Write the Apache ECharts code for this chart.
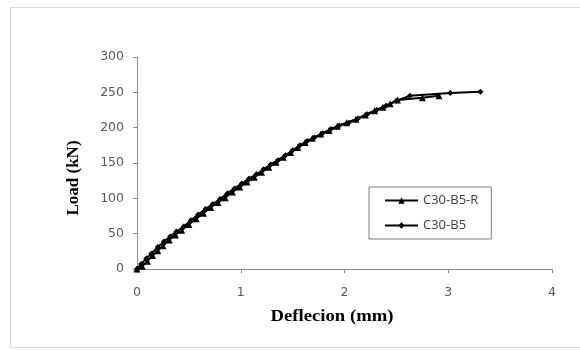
<!DOCTYPE html>
<html>
<head>
<meta charset="utf-8">
<script src="https://cdn.jsdelivr.net/npm/echarts@6/dist/echarts.min.js"></script>
<style>
  html, body { margin: 0; padding: 0; background: #fff; }
  #chart { width: 580px; height: 350px; }
</style>
</head>
<body>
<div id="chart"></div>
<script>
// C30-B5 (diamond markers)
const b5Deflection = [0, 0.04, 0.09, 0.14, 0.2, 0.26, 0.32, 0.38, 0.45, 0.52, 0.59, 0.66, 0.73, 0.8, 0.87, 0.94, 1.01, 1.08, 1.15, 1.22, 1.29, 1.36, 1.43, 1.5, 1.57, 1.64, 1.71, 1.79, 1.87, 1.95, 2.04, 2.13, 2.22, 2.31, 2.4, 2.5, 2.63, 3.02, 3.31];
const b5Load = [0, 7, 15, 22, 31, 39, 46, 53, 60, 69, 77, 85, 92, 99, 107, 114, 121, 128, 134, 141, 148, 154, 161, 168, 175, 181, 186, 192, 198, 203, 207, 213, 219, 225, 231, 238, 245, 249, 251];

// C30-B5-R (triangle markers)
const b5rDeflection = [0, 0.05, 0.1, 0.15, 0.2, 0.25, 0.31, 0.37, 0.43, 0.5, 0.57, 0.64, 0.71, 0.78, 0.85, 0.92, 0.99, 1.06, 1.13, 1.2, 1.27, 1.34, 1.41, 1.48, 1.55, 1.62, 1.69, 1.77, 1.85, 1.93, 2.02, 2.11, 2.2, 2.29, 2.37, 2.44, 2.51, 2.75, 2.91];
const b5rLoad = [0, 4, 11, 19, 26, 33, 41, 48, 55, 63, 71, 79, 87, 94, 101, 109, 116, 123, 130, 137, 144, 151, 158, 165, 172, 179, 185, 191, 196, 202, 207, 212, 218, 224, 229, 234, 239, 242.5, 245];

const pairs = (xs, ys) => xs.map((x, i) => [x, ys[i]]);

const axisGray = '#8c8c8c';
const labelStyle = {color: '#595959', fontSize: 12.5, fontFamily: 'DejaVu Sans'};

const chart = echarts.init(document.getElementById('chart'));
chart.setOption({
  animation: false,
  grid: {left: 137, right: 28, top: 57, bottom: 81},
  xAxis: {
    type: 'value',
    min: 0, max: 4, interval: 1,
    splitLine: {show: false},
    axisLine: {lineStyle: {color: axisGray}},
    axisTick: {show: true, length: 4, lineStyle: {color: axisGray}},
    axisLabel: Object.assign({margin: 17}, labelStyle),
  },
  yAxis: {
    type: 'value',
    min: 0, max: 300, interval: 50,
    splitLine: {show: false},
    axisLine: {show: true, lineStyle: {color: axisGray}},
    axisTick: {show: true, length: 4, lineStyle: {color: axisGray}},
    axisLabel: Object.assign({margin: 13}, labelStyle),
  },
  legend: {
    orient: 'vertical',
    left: 369, top: 187,
    width: 110,
    padding: [7, 13, 7, 15],
    itemGap: 12,
    itemWidth: 33, itemHeight: 8,
    borderColor: '#7f7f7f', borderWidth: 1,
    textStyle: {color: '#404040', fontSize: 13, fontFamily: 'Open Sans'},
    data: ['C30-B5-R', 'C30-B5'],
  },
  graphic: [
    {type: 'rect', silent: true, z: -10,
      shape: {x: 10.5, y: 7.5, width: 600, height: 340},
      style: {fill: 'none', stroke: '#d9d9d9', lineWidth: 1}},
    {type: 'text', x: 332, y: 317, scaleX: 1.1,
      style: {text: 'Deflecion (mm)', font: 'bold 17px "Liberation Serif"', fill: '#000',
        align: 'center', verticalAlign: 'middle'}},
    {type: 'text', x: 74, y: 178, rotation: Math.PI / 2,
      style: {text: 'Load (kN)', font: 'bold 17px "Liberation Serif"', fill: '#000',
        align: 'center', verticalAlign: 'middle'}},
  ],
  series: [
    {
      name: 'C30-B5-R',
      type: 'line',
      data: pairs(b5rDeflection, b5rLoad),
      symbol: 'triangle', symbolSize: 7,
      lineStyle: {color: '#000', width: 2},
      itemStyle: {color: '#000'},
    },
    {
      name: 'C30-B5',
      type: 'line',
      data: pairs(b5Deflection, b5Load),
      symbol: 'diamond', symbolSize: 6,
      lineStyle: {color: '#000', width: 2},
      itemStyle: {color: '#000'},
    },
  ],
});
</script>
</body>
</html>
